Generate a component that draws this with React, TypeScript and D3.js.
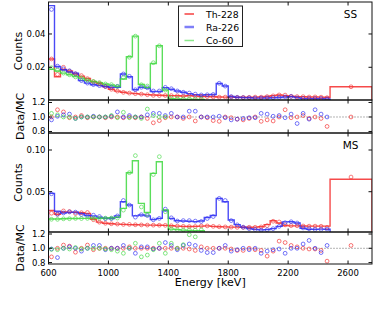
import React from 'react';
import * as d3 from 'd3';

// Bin edges (keV): 40 keV bins from 600 to 2480, one wide overflow bin to 2760
const EDGES = [600, 640, 680, 720, 760, 800, 840, 880, 920, 960, 1000, 1040, 1080, 1120, 1160, 1200, 1240, 1280, 1320, 1360, 1400, 1440, 1480, 1520, 1560, 1600, 1640, 1680, 1720, 1760, 1800, 1840, 1880, 1920, 1960, 2000, 2040, 2080, 2120, 2160, 2200, 2240, 2280, 2320, 2360, 2400, 2440, 2480, 2760];

const X_TICKS = [600, 1000, 1400, 1800, 2200, 2600];
const SS_TICKS = [0.02, 0.04];
const MS_TICKS = [0.05, 0.10];
const RATIO_TICKS = [0.8, 1.0, 1.2];
const SERIES_NAMES = ['Th-228', 'Ra-226', 'Co-60'];

// ---- SS (single site) MC histograms ----
const TH228_SS = [0.025, 0.0143, 0.0187, 0.0178, 0.016, 0.0147, 0.0133, 0.0113, 0.0103, 0.0085, 0.0068, 0.0057, 0.005, 0.0045, 0.0042, 0.0039, 0.0036, 0.0034, 0.0032, 0.0031, 0.003, 0.0029, 0.0028, 0.003, 0.0027, 0.0025, 0.0024, 0.0023, 0.0022, 0.0021, 0.0021, 0.002, 0.002, 0.002, 0.0021, 0.0022, 0.0025, 0.003, 0.0034, 0.003, 0.0026, 0.0024, 0.0023, 0.0022, 0.0022, 0.0021, 0.002, 0.0083];
const RA226_SS = [0.057, 0.0205, 0.0185, 0.0172, 0.0165, 0.012, 0.0105, 0.0095, 0.009, 0.0085, 0.008, 0.008, 0.016, 0.0143, 0.0065, 0.008, 0.0075, 0.0055, 0.0055, 0.0078, 0.0068, 0.0058, 0.005, 0.0042, 0.0036, 0.0034, 0.0035, 0.0037, 0.0103, 0.0088, 0.0025, 0.002, 0.0018, 0.0017, 0.0015, 0.0015, 0.0016, 0.0017, 0.0019, 0.0022, 0.0024, 0.0018, 0.0012, 0.0012, 0.0011, 0.0012, 0.001];
const CO60_SS = [0.0188, 0.0178, 0.0165, 0.0155, 0.0145, 0.0135, 0.0122, 0.0115, 0.0108, 0.01, 0.0094, 0.0086, 0.013, 0.0263, 0.0387, 0.0097, 0.0079, 0.0223, 0.0329, 0.0063, 0.0012, 0.001, 0.0008, 0.0008, 0.0007, 0.0007];

// ---- MS (multi site) MC histograms ----
const TH228_MS = [0.0275, 0.023, 0.0258, 0.0255, 0.0252, 0.0248, 0.024, 0.0168, 0.0135, 0.0122, 0.0116, 0.0112, 0.0108, 0.0106, 0.0104, 0.0102, 0.01, 0.0099, 0.0098, 0.0097, 0.0092, 0.0088, 0.0085, 0.0083, 0.0085, 0.0088, 0.009, 0.0085, 0.008, 0.0078, 0.0076, 0.0075, 0.0074, 0.0074, 0.0075, 0.008, 0.0105, 0.0152, 0.0125, 0.0095, 0.009, 0.009, 0.0089, 0.0088, 0.0088, 0.0088, 0.0088, 0.065];
const RA226_MS = [0.048, 0.0265, 0.0245, 0.0252, 0.0255, 0.0235, 0.0215, 0.021, 0.0195, 0.018, 0.0178, 0.021, 0.038, 0.034, 0.021, 0.022, 0.021, 0.0165, 0.018, 0.027, 0.018, 0.0152, 0.0148, 0.0145, 0.0142, 0.0148, 0.019, 0.0215, 0.042, 0.038, 0.016, 0.0105, 0.0075, 0.0058, 0.0048, 0.0043, 0.0045, 0.0058, 0.0085, 0.0138, 0.014, 0.0125, 0.0062, 0.005, 0.0048, 0.0052, 0.005];
const CO60_MS = [0.0172, 0.0172, 0.0175, 0.0178, 0.0178, 0.018, 0.018, 0.0182, 0.0182, 0.0185, 0.0188, 0.0192, 0.03, 0.0728, 0.0872, 0.036, 0.025, 0.072, 0.086, 0.028, 0.0052, 0.0045, 0.004, 0.0036, 0.0034, 0.0033];

// ---- Data/MC ratios ----
const TH228_SS_RATIO = [1.0, 1.1, 1.07, 0.99, 1.0, 1.02, 0.99, 1.0, 1.0, 0.99, 1.0, 1.0, 0.99, 1.0, 0.99, 1.0, 0.98, 0.92, 0.95, 0.99, 1.0, 1.0, 0.98, 1.0, 0.945, 1.0, 0.99, 0.95, 0.94, 1.0, 0.99, 0.97, 0.96, 0.98, 1.0, 0.94, 0.96, 0.945, 1.0, 1.1, 0.99, 1.0, 1.02, 0.98, 1.0, 0.98, 0.87, 1.0];
const RA226_SS_RATIO = [0.96, 1.01, 1.03, 1.04, 0.98, 1.0, 1.0, 1.01, 1.0, 1.0, 1.01, 1.07, 1.0, 1.02, 1.0, 1.0, 1.03, 1.05, 1.05, 1.02, 1.05, 1.0, 1.0, 1.08, 1.08, 1.0, 1.0, 1.0, 1.01, 0.99, 0.96, 0.97, 0.98, 0.99, 0.99, 1.05, 1.04, 1.01, 1.02, 0.99, 1.04, 0.91, 1.05, 0.97, 1.1, 1.04, 1.0];
const CO60_SS_RATIO = [1.05, 1.03, 1.0, 1.0, 0.98, 1.0, 1.0, 1.0, 1.0, 1.0, 1.02, 0.99, 1.065, 0.99, 1.0, 0.98, 1.11, 1.02, 1.0, 1.0, 1.3, 1.35, 1.3, 1.4, 1.3, 1.35];
const TH228_MS_RATIO = [0.88, 1.0, 1.045, 1.03, 0.945, 1.0, 1.045, 0.98, 1.0, 1.0, 1.0, 1.0, 1.0, 1.02, 1.0, 1.0, 1.0, 1.0, 1.0, 1.0, 1.0, 1.0, 1.0, 0.99, 0.97, 1.02, 1.0, 1.0, 1.0, 1.0, 0.99, 0.97, 0.97, 1.0, 0.98, 0.97, 0.89, 0.96, 1.1, 1.08, 1.04, 1.02, 1.0, 0.99, 0.99, 0.97, 0.82, 1.04];
const RA226_MS_RATIO = [0.99, 0.87, 1.0, 1.02, 1.0, 0.96, 1.0, 1.04, 1.04, 0.98, 1.0, 1.0, 1.04, 1.0, 0.93, 1.02, 1.02, 0.99, 1.0, 1.08, 1.04, 0.98, 1.04, 1.06, 1.04, 0.97, 0.94, 0.94, 1.0, 1.04, 0.96, 0.98, 1.0, 0.98, 1.0, 0.93, 0.96, 0.98, 0.99, 0.93, 1.0, 1.0, 1.06, 1.11, 1.0, 0.94, 1.04];
const CO60_MS_RATIO = [0.985, 0.98, 1.0, 0.99, 1.01, 0.99, 1.0, 1.0, 1.0, 0.99, 0.98, 0.96, 0.93, 1.0, 1.07, 0.88, 0.905, 0.98, 1.07, 0.93, 1.07, 1.0, 1.05, 1.19, 1.16, 1.3];

const COLORS = ['#f42a2a', '#2a2af4', '#3ed83e'];
const FONT = '"DejaVu Sans", Verdana, sans-serif';

const X0 = 48.5;
const X1 = 372;
const x = d3.scaleLinear().domain([600, 2760]).range([X0, X1]);

type Panel = {
  kind: 'counts' | 'ratio';
  top: number;
  bottom: number;
  domain: [number, number];
  ticks: number[];
  fmt: (v: number) => string;
  tag?: string;
  mc?: number[][];
  ratio: number[][];
};

const PANELS: Panel[] = [
  { kind: 'counts', top: 2, bottom: 100, domain: [0.00036, 0.0592], ticks: SS_TICKS, fmt: d3.format('.2f'), tag: 'SS', mc: [TH228_SS, RA226_SS, CO60_SS], ratio: [TH228_SS_RATIO, RA226_SS_RATIO, CO60_SS_RATIO] },
  { kind: 'ratio', top: 100, bottom: 133, domain: [0.779, 1.2345], ticks: RATIO_TICKS, fmt: d3.format('.1f'), ratio: [TH228_SS_RATIO, RA226_SS_RATIO, CO60_SS_RATIO] },
  { kind: 'counts', top: 133, bottom: 232, domain: [0.0017, 0.1204], ticks: MS_TICKS, fmt: d3.format('.2f'), tag: 'MS', mc: [TH228_MS, RA226_MS, CO60_MS], ratio: [TH228_MS_RATIO, RA226_MS_RATIO, CO60_MS_RATIO] },
  { kind: 'ratio', top: 232, bottom: 264, domain: [0.78, 1.228], ticks: RATIO_TICKS, fmt: d3.format('.1f'), ratio: [TH228_MS_RATIO, RA226_MS_RATIO, CO60_MS_RATIO] },
];

function stepPath(values: number[], y: d3.ScaleLinear<number, number>, floor: number) {
  const pts: [number, number][] = [[EDGES[0], floor]];
  values.forEach((v, i) => {
    pts.push([EDGES[i], v]);
    pts.push([EDGES[i + 1], v]);
  });
  pts.push([EDGES[values.length], floor]);
  return d3.line<[number, number]>().x((d) => x(d[0])).y((d) => y(d[1]))(pts) || '';
}

function PanelView({ p, idx }: { p: Panel; idx: number }) {
  const y = d3.scaleLinear().domain(p.domain).range([p.bottom, p.top]);
  const clipId = `clip${idx}`;
  const tickLen = 3.5;
  const center = (i: number) => (EDGES[i] + EDGES[i + 1]) / 2;
  return (
    <g>
      <defs>
        <clipPath id={clipId}>
          <rect x={X0} y={p.top} width={X1 - X0} height={p.bottom - p.top} />
        </clipPath>
      </defs>
      <g clipPath={`url(#${clipId})`}>
        {p.kind === 'ratio' && (
          <line x1={X0} x2={X1} y1={y(1)} y2={y(1)} stroke="#666" strokeWidth={1} strokeDasharray="1,2" />
        )}
        {p.kind === 'counts' && p.mc &&
          p.mc.map((vals, s) => (
            <path key={`h${s}`} d={stepPath(vals, y, p.domain[0] - 1)} fill="none" stroke={COLORS[s]} strokeWidth={1.4} strokeOpacity={0.85} />
          ))}
        {p.kind === 'counts' && p.mc &&
          p.mc.map((vals, s) =>
            vals.map((v, i) => (
              <circle key={`m${s}-${i}`} cx={x(center(i))} cy={y(v * p.ratio[s][i])} r={1.9} fill="none" stroke={COLORS[s]} strokeWidth={1} strokeOpacity={0.6} />
            ))
          )}
        {p.kind === 'ratio' &&
          p.ratio.map((vals, s) =>
            vals.map((r, i) => (
              <circle key={`r${s}-${i}`} cx={x(center(i))} cy={y(r)} r={1.9} fill="none" stroke={COLORS[s]} strokeWidth={1} strokeOpacity={0.65} />
            ))
          )}
      </g>
      {/* frame */}
      <rect x={X0} y={p.top} width={X1 - X0} height={p.bottom - p.top} fill="none" stroke="#111" strokeWidth={1} />
      {/* x ticks (inward, top & bottom) */}
      {X_TICKS.map((t) => (
        <g key={`xt${t}`}>
          <line x1={x(t)} x2={x(t)} y1={p.top} y2={p.top + tickLen} stroke="#111" />
          <line x1={x(t)} x2={x(t)} y1={p.bottom} y2={p.bottom - tickLen} stroke="#111" />
        </g>
      ))}
      {/* y ticks */}
      {p.ticks.map((t) => (
        <g key={`yt${t}`}>
          <line x1={X0} x2={X0 + tickLen} y1={y(t)} y2={y(t)} stroke="#111" />
          <line x1={X1} x2={X1 - tickLen} y1={y(t)} y2={y(t)} stroke="#111" />
          <text x={45.5} y={y(t)} textAnchor="end" dominantBaseline="central" fontSize={8.5} fontFamily={FONT} fill="#000">
            {p.fmt(t)}
          </text>
        </g>
      ))}
      {p.tag && (
        <text x={350.5} y={p.top + 11.5} textAnchor="middle" dominantBaseline="central" fontSize={10.5} fontFamily={FONT} fill="#000">
          {p.tag}
        </text>
      )}
      <text
        transform={`translate(${p.kind === 'counts' ? 18.5 : 20},${(p.top + p.bottom) / 2}) rotate(-90)`}
        textAnchor="middle"
        dominantBaseline="central"
        fontSize={11}
        fontFamily={FONT}
        fill="#000"
      >
        {p.kind === 'counts' ? 'Counts' : 'Data/MC'}
      </text>
    </g>
  );
}

function Legend() {
  const bx = 178.5, by = 6, bw = 64, bh = 40.5;
  const rows = [14, 27, 40.5];
  return (
    <g>
      <rect x={bx} y={by} width={bw} height={bh} fill="#fff" stroke="#222" strokeWidth={1} />
      {SERIES_NAMES.map((name, i) => (
        <g key={name}>
          <line x1={184.5} x2={194} y1={rows[i]} y2={rows[i]} stroke={COLORS[i]} strokeWidth={i === 1 ? 2.5 : 1.5} strokeOpacity={i === 0 ? 0.9 : 0.6} />
          <text x={206} y={rows[i]} dominantBaseline="central" fontSize={9.3} fontFamily={FONT} fill="#000">
            {name}
          </text>
        </g>
      ))}
    </g>
  );
}

export default function App() {
  return (
    <svg width={374} height={312} style={{ position: 'absolute', left: 0, top: 0, background: '#fff' }}>
      <rect x={0} y={0} width={374} height={312} fill="#fff" />
      {PANELS.map((p, i) => (
        <PanelView key={i} p={p} idx={i} />
      ))}
      {X_TICKS.map((t) => (
        <text key={`xl${t}`} x={x(t)} y={275.5} textAnchor="middle" fontSize={8.5} fontFamily={FONT} fill="#000">
          {t}
        </text>
      ))}
      <text x={(X0 + X1) / 2} y={286} textAnchor="middle" fontSize={11} fontFamily={FONT} fill="#000">
        Energy [keV]
      </text>
      <Legend />
    </svg>
  );
}
